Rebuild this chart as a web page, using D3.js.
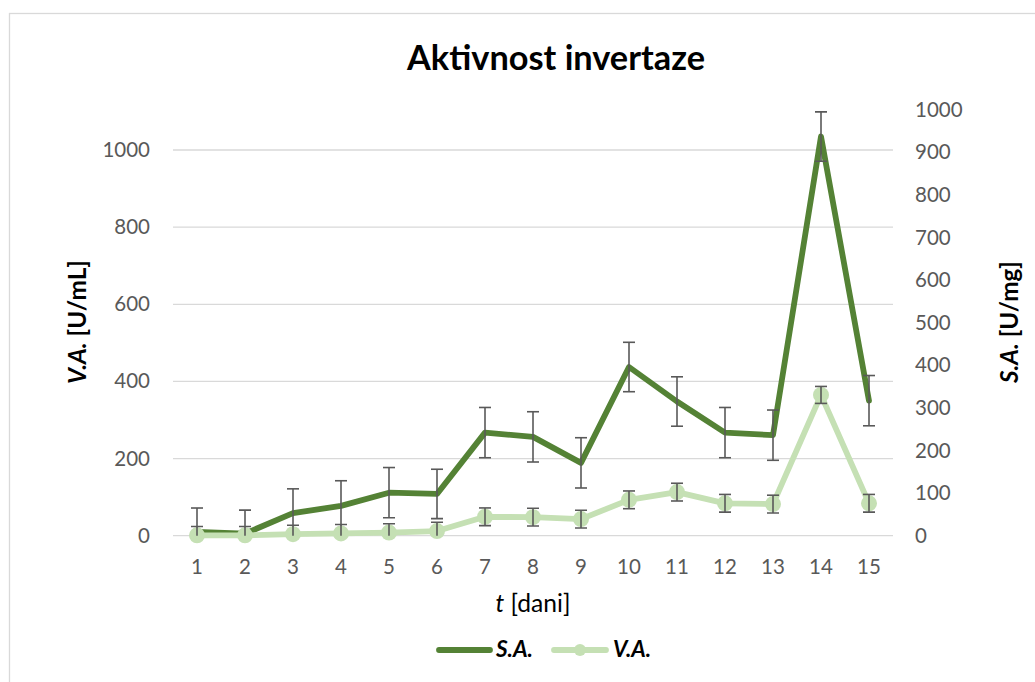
<!DOCTYPE html>
<html><head><meta charset="utf-8">
<script src="https://cdn.jsdelivr.net/npm/d3@7"></script>
<style>body{margin:0;background:#fff}svg{display:block}</style>
</head><body>
<svg id="c" width="1035" height="682"></svg>
<script>
const days = [1,2,3,4,5,6,7,8,9,10,11,12,13,14,15];
const saValues = [9,5,53,70,101,98,242,232,171,396,315,242,236,937,317];
const saErrors = [56,55,57,59,59,58,59,59,59,58,58,59,59,58,59];
const vaValues = [1,1,4,6,8,12,49,48,43,93,113,84,82,365,84];
const vaErrors = [23,23,23,23,23,23,23,23,23,23,23,23,23,22,23];
const leftTicks = [0,200,400,600,800,1000];
const rightTicks = [0,100,200,300,400,500,600,700,800,900,1000];
const leftMax = 1104.5, rightMax = 1000;

const FONT = "Lato, 'Open Sans', sans-serif";
const svg = d3.select("#c");
const P = {l:173, r:893, t:109.7, b:535.7};

const x = d3.scaleBand().domain(days).range([P.l, P.r]);
const cx = d => x(d) + x.bandwidth()/2;
const yL = d3.scaleLinear().domain([0,leftMax]).range([P.b,P.t]);
const yR = d3.scaleLinear().domain([0,rightMax]).range([P.b,P.t]);

function fit(sel, w){ const n=sel.node(); const L=n.getComputedTextLength(); const fs=parseFloat(sel.attr("font-size")); sel.attr("font-size", fs*w/L); }

// chart border
svg.append("rect").attr("x",9.5).attr("y",13.5).attr("width",1100).attr("height",700)
  .attr("fill","none").attr("stroke","#d9d9d9").attr("stroke-width",1.3);

svg.append("defs").append("clipPath").attr("id","pc").append("rect")
  .attr("x",P.l).attr("y",P.t).attr("width",P.r-P.l).attr("height",P.b-P.t);

// gridlines
svg.append("g").selectAll("line").data(leftTicks).join("line")
  .attr("x1",P.l).attr("x2",P.r).attr("y1",d=>yL(d)).attr("y2",d=>yL(d))
  .attr("stroke","#d9d9d9").attr("stroke-width",1.3);

const fmt = d3.format("d");
// left axis
const gL = svg.append("g").attr("transform",`translate(${P.l},0)`)
  .call(d3.axisLeft(yL).tickValues(leftTicks).tickFormat(fmt).tickSize(0).tickPadding(23));
gL.select(".domain").remove();
gL.selectAll("text").attr("font-family",FONT).attr("font-size",20.5).attr("fill","#595959");

// right axis
const gR = svg.append("g").attr("transform",`translate(${P.r},0)`)
  .call(d3.axisRight(yR).tickValues(rightTicks).tickFormat(fmt).tickSize(0).tickPadding(22));
gR.select(".domain").remove();
gR.selectAll("text").attr("font-family",FONT).attr("font-size",20.5).attr("fill","#595959");

// bottom axis
const gB = svg.append("g").attr("transform",`translate(0,${P.b})`)
  .call(d3.axisBottom(x).tickSize(0).tickPadding(24));
gB.select(".domain").remove();
gB.selectAll("text").attr("font-family",FONT).attr("font-size",20.5).attr("fill","#595959");

const saData = days.map((d,i)=>({d, v:saValues[i], e:saErrors[i]}));
const vaData = days.map((d,i)=>({d, v:vaValues[i], e:vaErrors[i]}));

// S.A. series (right axis)
svg.append("path").datum(saData)
  .attr("d", d3.line().x(p=>cx(p.d)).y(p=>yR(p.v)))
  .attr("fill","none").attr("stroke","#548235").attr("stroke-width",5.8)
  .attr("stroke-linejoin","round").attr("stroke-linecap","round");

function errBars(data, y){
  const g = svg.append("g").attr("clip-path","url(#pc)").attr("stroke","#595959").attr("stroke-width",1.6);
  g.selectAll(".v").data(data).join("line")
    .attr("x1",p=>cx(p.d)).attr("x2",p=>cx(p.d)).attr("y1",p=>y(p.v+p.e)).attr("y2",p=>y(p.v-p.e));
  g.selectAll(".t").data(data).join("line")
    .attr("x1",p=>cx(p.d)-6).attr("x2",p=>cx(p.d)+6).attr("y1",p=>y(p.v+p.e)).attr("y2",p=>y(p.v+p.e));
  g.selectAll(".b").data(data).join("line")
    .attr("x1",p=>cx(p.d)-6).attr("x2",p=>cx(p.d)+6).attr("y1",p=>y(p.v-p.e)).attr("y2",p=>y(p.v-p.e));
}
errBars(saData, yR);

// V.A. series (left axis)
svg.append("path").datum(vaData)
  .attr("d", d3.line().x(p=>cx(p.d)).y(p=>yL(p.v)))
  .attr("fill","none").attr("stroke","#c5e0b4").attr("stroke-width",5.8)
  .attr("stroke-linejoin","round").attr("stroke-linecap","round");
svg.append("g").selectAll("circle").data(vaData).join("circle")
  .attr("cx",p=>cx(p.d)).attr("cy",p=>yL(p.v)).attr("r",8).attr("fill","#c5e0b4");
errBars(vaData, yL);

// title
const title = svg.append("text").attr("x",556).attr("y",70).attr("text-anchor","middle")
  .attr("font-family",FONT).attr("font-weight","bold").attr("font-size",30).attr("fill","#000")
  .text("Aktivnost invertaze");
fit(title, 298);

// axis titles
const lt = svg.append("text").attr("transform",`translate(86,322) rotate(-90)`).attr("text-anchor","middle")
  .attr("font-family",FONT).attr("font-weight","bold").attr("font-size",22).attr("fill","#000");
lt.append("tspan").attr("font-style","italic").text("V.A.");
lt.append("tspan").text(" [U/mL]");
fit(lt,124);

const rt = svg.append("text").attr("transform",`translate(1018,322) rotate(-90)`).attr("text-anchor","middle")
  .attr("font-family",FONT).attr("font-weight","bold").attr("font-size",22).attr("fill","#000");
rt.append("tspan").attr("font-style","italic").text("S.A.");
rt.append("tspan").text(" [U/mg]");
fit(rt,122);

const xt = svg.append("text").attr("x",533).attr("y",612).attr("text-anchor","middle")
  .attr("font-family",FONT).attr("font-size",22).attr("fill","#000");
xt.append("tspan").attr("font-style","italic").text("t");
xt.append("tspan").text(" [dani]");
fit(xt,75);

// legend
const lg = svg.append("g");
lg.append("line").attr("x1",439).attr("x2",490).attr("y1",650).attr("y2",650)
  .attr("stroke","#548235").attr("stroke-width",5.8).attr("stroke-linecap","round");
const l1 = lg.append("text").attr("x",496).attr("y",657).attr("font-family",FONT).attr("font-weight","bold")
  .attr("font-style","italic").attr("font-size",19).attr("fill","#000").text("S.A.");
fit(l1,37);
lg.append("line").attr("x1",554).attr("x2",606).attr("y1",650).attr("y2",650)
  .attr("stroke","#c5e0b4").attr("stroke-width",5.8).attr("stroke-linecap","round");
lg.append("circle").attr("cx",580).attr("cy",650).attr("r",6).attr("fill","#c5e0b4");
const l2 = lg.append("text").attr("x",613).attr("y",657).attr("font-family",FONT).attr("font-weight","bold")
  .attr("font-style","italic").attr("font-size",19).attr("fill","#000").text("V.A.");
fit(l2,38);
</script>
</body></html>
